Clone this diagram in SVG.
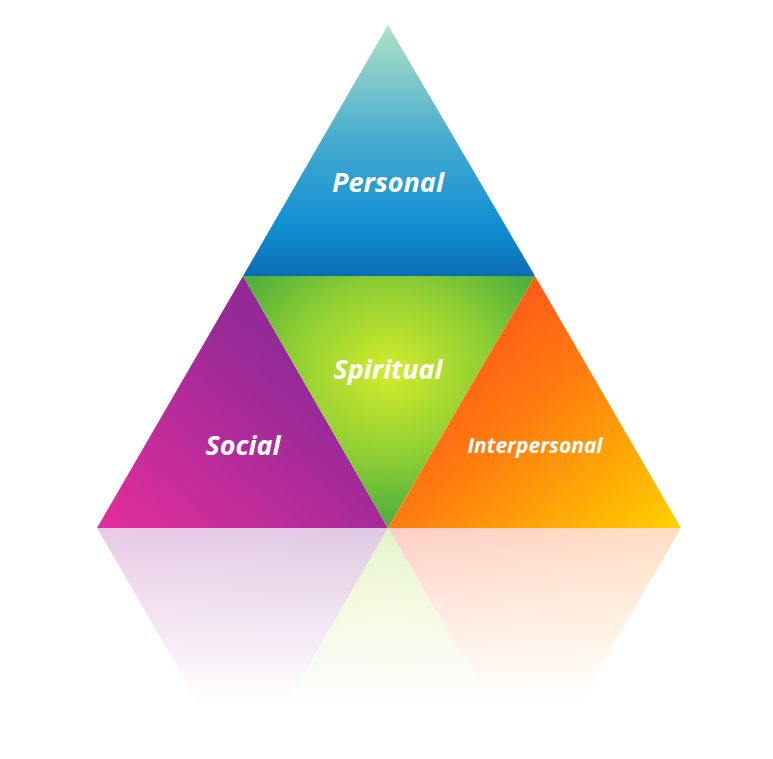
<svg xmlns="http://www.w3.org/2000/svg" width="773" height="759" viewBox="0 0 773 759">
<defs>
<linearGradient id="gTop" x1="0" y1="0" x2="0" y2="1"><stop offset="0" stop-color="#b2e2c4"/><stop offset="0.45" stop-color="#47acd0"/><stop offset="0.8" stop-color="#118fd2"/><stop offset="1" stop-color="#0b6db4"/></linearGradient>
<linearGradient id="gLeft" x1="0" y1="1" x2="1" y2="0"><stop offset="0" stop-color="#e42e9c"/><stop offset="0.6" stop-color="#9a2a98"/><stop offset="1" stop-color="#7c2a8e"/></linearGradient>
<radialGradient id="gMid" cx="0.5" cy="0.38" r="0.6"><stop offset="0" stop-color="#d4ec2c"/><stop offset="0.6" stop-color="#8acc34"/><stop offset="1" stop-color="#4fae3c"/></radialGradient>
<linearGradient id="gRight" x1="0" y1="0" x2="1" y2="1"><stop offset="0" stop-color="#ff3e1e"/><stop offset="0.5" stop-color="#ff7a10"/><stop offset="1" stop-color="#ffd000"/></linearGradient>
<linearGradient id="fade" x1="0" y1="0" x2="0" y2="1"><stop offset="0" stop-color="#fff" stop-opacity="0.5"/><stop offset="0.75" stop-color="#fff" stop-opacity="1"/></linearGradient>
<style>.t{font-family:"Open Sans","DejaVu Sans",sans-serif;font-weight:bold;font-style:italic;fill:#fff;text-anchor:middle}</style>
</defs>
<rect width="773" height="759" fill="#fff"/>
<g id="reflection" opacity="0.5">
<polygon points="97,528 388,528 243,780" fill="url(#gLeft)"/>
<polygon points="388,528 243,780 535,780" fill="url(#gMid)"/>
<polygon points="388,528 681,528 535,780" fill="url(#gRight)"/>
<rect x="0" y="528" width="773" height="231" fill="url(#fade)"/>
</g>
<g id="personal"><polygon points="388,25 243,276 535,276" fill="url(#gTop)"/><text class="t" x="388" y="192" font-size="27">Personal</text></g>
<g id="social"><polygon points="243,276 97,528 388,528" fill="url(#gLeft)"/><text class="t" x="243" y="455" font-size="27">Social</text></g>
<g id="spiritual"><polygon points="243,276 535,276 388,528" fill="url(#gMid)"/><text class="t" x="388" y="379" font-size="27">Spiritual</text></g>
<g id="interpersonal"><polygon points="535,276 388,528 681,528" fill="url(#gRight)"/><text class="t" x="535" y="453" font-size="21">Interpersonal</text></g>
<g id="connectors"/>
</svg>
